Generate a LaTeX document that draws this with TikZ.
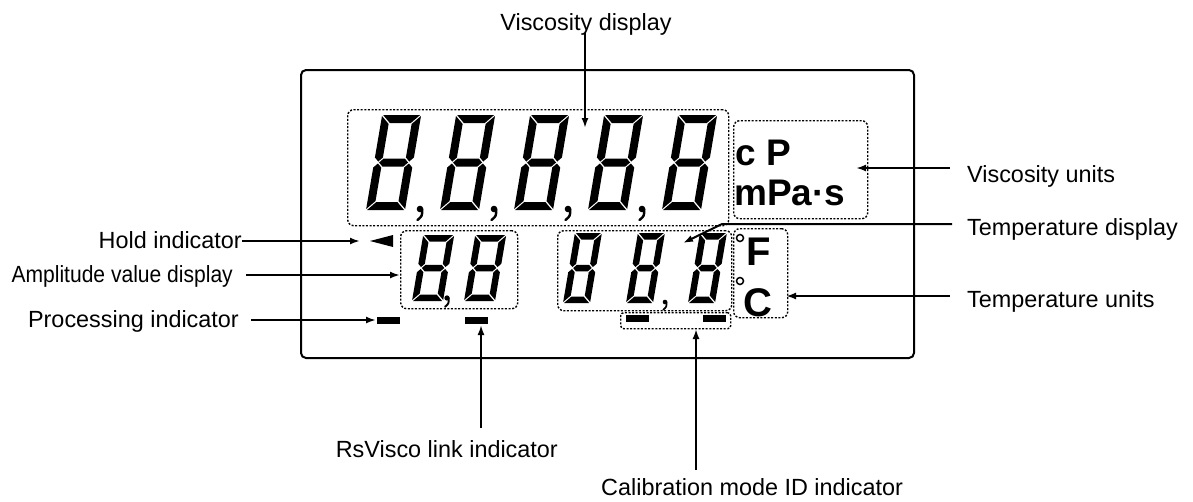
\documentclass[tikz,border=0pt]{standalone}
\usepackage{fontspec}
\setmainfont{Liberation Sans}
\usepackage{graphicx}
\usetikzlibrary{arrows.meta}
\tikzset{
  lbl/.style={font=\fontsize{23.4}{26}\selectfont, inner sep=0pt, text height=17pt, text depth=3pt},
  unit/.style={font=\bfseries\fontsize{37}{40}\selectfont, inner sep=0pt},
  conn/.style={line width=2pt, -{Latex[length=10pt,width=7pt]}},
  dotbox/.style={draw, line width=1.4pt, dash pattern=on 2pt off 1.6pt, rounded corners=6pt, inner sep=0pt, anchor=north west},
  panel/.style={draw, line width=2pt, rounded corners=5pt, inner sep=0pt, anchor=north west},
  bar/.style={fill=black, inner sep=0pt, minimum width=23pt, minimum height=7pt, anchor=north west},
}
\newcommand{\lcddigit}[5]{%
  \begin{scope}[shift={(#1,#2)}, xslant=0.17, yscale=-1]
    \pgfmathsetmacro\sgW{#3}\pgfmathsetmacro\sgH{#4}\pgfmathsetmacro\sgT{#5}
    \pgfmathsetmacro\sgh{#4/2}\pgfmathsetmacro\sgq{#5/2}\def\sgd{1}
    \pgfmathsetmacro\sgWd{#3-1}\pgfmathsetmacro\sgWtd{#3-#5-1}\pgfmathsetmacro\sgtd{#5+1}
    \pgfmathsetmacro\sgHt{#4-#5}\pgfmathsetmacro\sgHd{#4-1}\pgfmathsetmacro\sgHtd{#4-#5-1}
    \pgfmathsetmacro\sghq{#4/2+#5/2+1}\pgfmathsetmacro\sghd{#4/2+1}
    \pgfmathsetmacro\sghqm{#4/2-#5/2-1}\pgfmathsetmacro\sghdm{#4/2-1}
    \pgfmathsetmacro\sgWt{#3-#5}\pgfmathsetmacro\sgWq{#3-#5/2}
    \pgfmathsetmacro\sgqd{#5/2+1}\pgfmathsetmacro\sgWqd{#3-#5/2-1}
    \pgfmathsetmacro\sghpq{#4/2+#5/2}\pgfmathsetmacro\sghmq{#4/2-#5/2}
    \fill (\sgd,\sgH) -- (\sgWd,\sgH) -- (\sgWtd,\sgHt) -- (\sgtd,\sgHt) -- cycle;
    \fill (\sgd,0) -- (\sgWd,0) -- (\sgWtd,\sgT) -- (\sgtd,\sgT) -- cycle;
    \fill (0,\sgHd) -- (\sgT,\sgHtd) -- (\sgT,\sghq) -- (\sgq,\sghd) -- (0,\sghq) -- cycle;
    \fill (0,\sgd) -- (\sgT,\sgtd) -- (\sgT,\sghqm) -- (\sgq,\sghdm) -- (0,\sghqm) -- cycle;
    \fill (\sgW,\sgHd) -- (\sgWt,\sgHtd) -- (\sgWt,\sghq) -- (\sgWq,\sghd) -- (\sgW,\sghq) -- cycle;
    \fill (\sgW,\sgd) -- (\sgWt,\sgtd) -- (\sgWt,\sghqm) -- (\sgWq,\sghdm) -- (\sgW,\sghqm) -- cycle;
    \fill (\sgqd,\sgh) -- (\sgtd,\sghpq) -- (\sgWtd,\sghpq) -- (\sgWqd,\sgh) -- (\sgWtd,\sghmq) -- (\sgtd,\sghmq) -- cycle;
  \end{scope}}
\newcommand{\lcdcomma}[3]{%
  \pgfmathsetlengthmacro\cmr{3.3*#3}%
  \pgfmathsetlengthmacro\cmw{2.4*#3}%
  \fill (#1,#2) circle (\cmr);
  \draw[line width=\cmw, line cap=round] ({#1+2.2*#3},#2) .. controls ({#1+2.2*#3},{#2+7*#3}) .. ({#1-2.5*#3},{#2+11*#3});
}
\begin{document}
\begin{tikzpicture}[x=1pt,y=-1pt]
\useasboundingbox (0,0) rectangle (1193,501);
% panel
\node[panel, minimum width=613pt, minimum height=288pt] (panel) at (300,69) {};
% boxes
\node[dotbox, minimum width=381pt, minimum height=116pt] (visbox) at (347,109) {};
\node[dotbox, minimum width=134pt, minimum height=98pt] (vubox) at (733,120) {};
\node[dotbox, minimum width=117pt, minimum height=78pt] (ampbox) at (400,230) {};
\node[dotbox, minimum width=174pt, minimum height=80pt] (tempbox) at (557,230) {};
\node[dotbox, minimum width=54pt, minimum height=89pt] (tubox) at (733,228) {};
\node[dotbox, minimum width=110pt, minimum height=16pt, rounded corners=3pt] (calbox) at (620,312) {};
% viscosity digits
\foreach \i in {0,...,4} {\lcddigit{366+74*\i}{210}{39}{95}{8}}
\foreach \i in {0,...,3} {\lcdcomma{420+74*\i}{209}{1}}
% amplitude digits
\lcddigit{412}{301}{31}{66}{6.5}
\lcddigit{464}{301}{31}{66}{6.5}
\lcdcomma{447}{298}{0.8}
% temperature digits
\lcddigit{563}{303}{27}{70}{6.5}
\lcddigit{626}{303}{27}{70}{6.5}
\lcddigit{688}{303}{27}{70}{6.5}
\lcdcomma{665}{302}{0.7}
% units
\node[unit, anchor=base west] (cP) at (735,165) {c P};
\node[unit, anchor=base west] (mPas) at (734,205) {mPa·s};
\node[unit, anchor=base west, font=\bfseries\fontsize{40}{42}\selectfont] (degF) at (746,265) {F};
\node[unit, anchor=base west, font=\bfseries\fontsize{40}{42}\selectfont] (degC) at (743,316) {C};
\draw[line width=1.5pt] (740,238) circle (3.5pt);
\draw[line width=1.5pt] (740,281) circle (3.5pt);
% indicators
\fill (370,241) -- (393,235) -- (393,247) -- cycle;
\node[bar] (procbar) at (377,317) {};
\node[bar] (rsbar) at (465,317) {};
\node[bar] (calbar1) at (626,315) {};
\node[bar] (calbar2) at (703,315) {};
% labels
\node[lbl, anchor=base] (vdlbl) at (586,30) {Viscosity display};
\node[lbl, anchor=west] (vulbl) at (967,175) {Viscosity units};
\node[lbl, anchor=west] (tdlbl) at (967,228) {Temperature display};
\node[lbl, anchor=west] (tulbl) at (967,300) {Temperature units};
\node[lbl, anchor=east] (holdlbl) at (242,241) {Hold indicator};
\node[lbl, anchor=east] (amplbl) at (233,275) {\scalebox{0.9}[1]{Amplitude value display}};
\node[lbl, anchor=east] (proclbl) at (239,320) {Processing indicator};
\node[lbl, anchor=base east] (rslbl) at (558,457) {RsVisco link indicator};
\node[lbl, anchor=base west] (callbl) at (601,495) {Calibration mode ID indicator};
% connector ends
\coordinate (vdtip) at (585,128);
\coordinate (vustart) at (950,168);
\coordinate (vutip) at (856,168);
\coordinate (tdstart) at (952,224);
\coordinate (tdcorner) at (722,224);
\coordinate (tdtip) at (683,243);
\coordinate (tustart) at (950,296);
\coordinate (tutip) at (786,296);
\coordinate (holdtip) at (360,241);
\coordinate (ampstart) at (246,275);
\coordinate (amptip) at (400,275);
\coordinate (procstart) at (251,320);
\coordinate (proctip) at (376,320);
\coordinate (rsstart) at (481,428);
\coordinate (rstip) at (481,325);
\coordinate (calstart) at (696,470);
\coordinate (caltip) at (696,329);
% connectors
\draw[conn] (vdlbl.south -| vdtip) -- (vdtip);
\draw[conn] (vustart) -- (vutip);
\draw[conn] (tdstart) -- (tdcorner) -- (tdtip);
\draw[conn] (tustart) -- (tutip);
\draw[conn] (holdlbl.east) -- (holdtip);
\draw[conn] (ampstart) -- (amptip);
\draw[conn] (procstart) -- (proctip);
\draw[conn] (rsstart) -- (rstip);
\draw[conn] (calstart) -- (caltip);
\end{tikzpicture}
\end{document}
